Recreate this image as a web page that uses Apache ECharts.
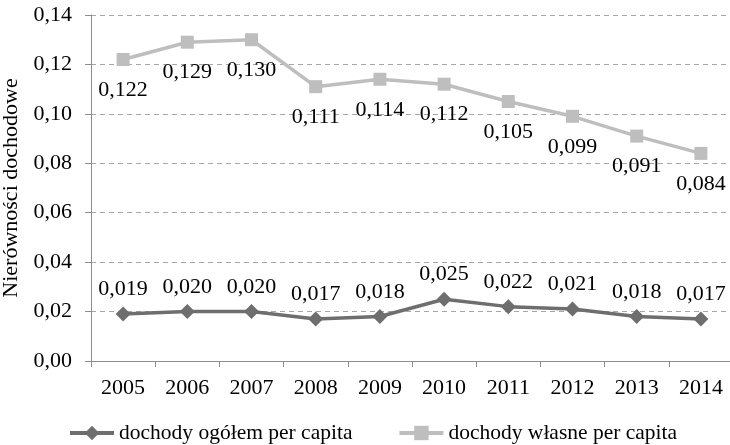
<!DOCTYPE html>
<html>
<head>
<meta charset="utf-8">
<script src="https://cdn.jsdelivr.net/npm/echarts@6/dist/echarts.min.js"></script>
<style>html,body{margin:0;padding:0;background:#fff}#c{width:730px;height:445px}</style>
</head>
<body>
<div id="c"></div>
<script>
var years = ['2005','2006','2007','2008','2009','2010','2011','2012','2013','2014'];
var ogolem = [0.019,0.020,0.020,0.017,0.018,0.025,0.022,0.021,0.018,0.017];
var wlasne = [0.122,0.129,0.130,0.111,0.114,0.112,0.105,0.099,0.091,0.084];
var seriesNames = ['dochody ogółem per capita','dochody własne per capita'];
var yAxisName = 'Nierówności dochodowe';

var FONT = 'Liberation Serif';
var FS = 22;
var chart = echarts.init(document.getElementById('c'), null, {renderer:'canvas'});
function fmt3(p){ return p.value.toFixed(3).replace('.', ','); }
chart.setOption({
  animation:false,
  textStyle:{fontFamily:FONT},
  grid:{left:91, top:15, width:642, bottom:84, containLabel:false, outerBoundsMode:'none'},
  xAxis:{
    type:'category', data:years, boundaryGap:true,
    axisLine:{lineStyle:{color:'#8c8c8c', width:1}},
    axisTick:{show:true, length:6, lineStyle:{color:'#8c8c8c'}},
    axisLabel:{color:'#000', fontFamily:FONT, fontSize:FS, margin:16}
  },
  yAxis:{
    type:'value', min:0, max:0.14, interval:0.02,
    name:yAxisName, nameLocation:'middle', nameGap:61,
    nameTextStyle:{color:'#000', fontFamily:FONT, fontSize:FS},
    axisLine:{show:true, lineStyle:{color:'#8c8c8c', width:1}},
    axisTick:{show:true, length:6, lineStyle:{color:'#8c8c8c'}},
    axisLabel:{color:'#000', fontFamily:FONT, fontSize:FS, margin:19,
      formatter:function(v){ return v.toFixed(2).replace('.', ','); }},
    splitLine:{show:true, lineStyle:{color:'#a6a6a6', type:[5,4], width:1}}
  },
  legend:{
    top:417, left:63, itemGap:45, itemWidth:44, itemHeight:18,
    lineStyle:{width:4},
    textStyle:{color:'#000', fontFamily:FONT, fontSize:21.5},
    data:seriesNames
  },
  series:[
    {name:seriesNames[0], type:'line', data:ogolem, symbol:'diamond', symbolSize:15,
     lineStyle:{color:'#6e6e6e', width:3.5}, itemStyle:{color:'#6e6e6e'},
     label:{show:true, position:'top', distance:6, color:'#000', fontFamily:FONT, fontSize:FS, formatter:fmt3}},
    {name:seriesNames[1], type:'line', data:wlasne, symbol:'rect', symbolSize:13,
     lineStyle:{color:'#bebebe', width:3.5}, itemStyle:{color:'#bebebe'},
     label:{show:true, position:'bottom', distance:13, color:'#000', fontFamily:FONT, fontSize:FS, formatter:fmt3}}
  ]
});
</script>
</body>
</html>
